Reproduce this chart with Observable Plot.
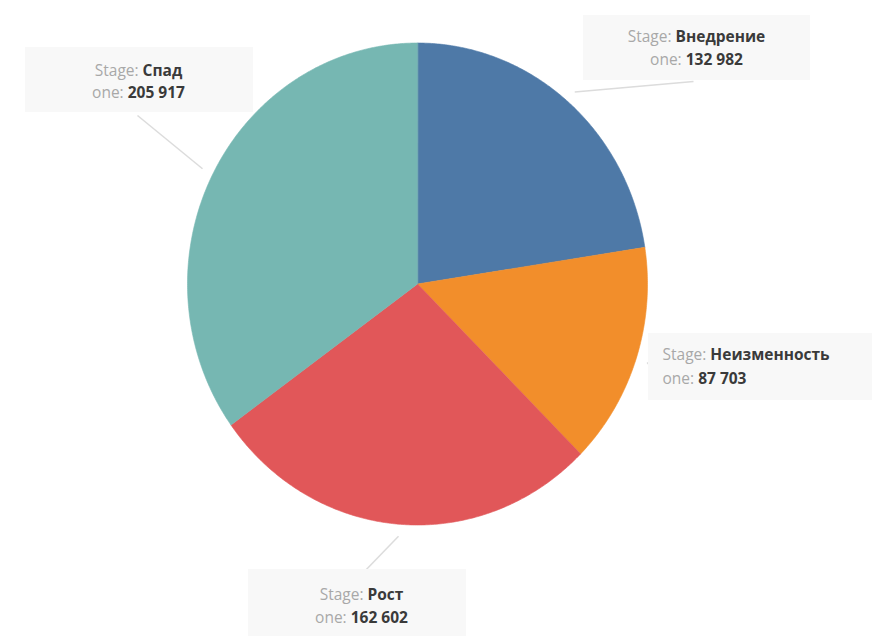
<!DOCTYPE html>
<html>
<head>
<meta charset="utf-8">
<script src="https://cdn.jsdelivr.net/npm/d3@7"></script>
<script src="https://cdn.jsdelivr.net/npm/@observablehq/plot@0.6"></script>
<style>
  html, body { margin: 0; padding: 0; background: #fff; }
  #chart svg { display: block; font-family: "Open Sans", "Noto Sans", sans-serif; }
</style>
</head>
<body>
<div id="chart"></div>
<script>
// ---- data ----
const stages = ["Внедрение", "Неизменность", "Рост", "Спад"];
const values = [132982, 87703, 162602, 205917];
const colors = ["#4e79a7", "#f28e2b", "#e15759", "#76b7b2"];

// ---- layout (pixels) ----
const W = 872, H = 636;
const CX = 417, CY = 283.5, RX = 230, RY = 241;
// label boxes and text anchors
const boxes = [
  {x1: 583, y1: 15, x2: 810, y2: 80, tx: 696, anchor: "middle", ty1: 37, ty2: 60, lx: 693, ly: 81},
  {x1: 648, y1: 333, x2: 872, y2: 400, tx: 662, anchor: "start", ty1: 355, ty2: 379, lx: 652, ly: 368},
  {x1: 248, y1: 569, x2: 466, y2: 640, tx: 361, anchor: "middle", ty1: 595, ty2: 618, lx: 362, ly: 573},
  {x1: 25, y1: 47, x2: 253, y2: 112, tx: 138, anchor: "middle", ty1: 71, ty2: 93, lx: 137, ly: 115}
];

const fmt = d3.formatLocale({decimal: ",", thousands: " ", grouping: [3], currency: ["", ""]}).format(",d");

const arcs = d3.pie().sort(null).value(d => d)(values);

const px = (a, r) => CX + RX * r * Math.sin(a);
const py = (a, r) => CY - RY * r * Math.cos(a);

const slices = arcs.map((a, i) => {
  const pts = [{x: CX, y: CY}];
  const n = Math.max(2, Math.ceil((a.endAngle - a.startAngle) / (Math.PI / 360)));
  for (let k = 0; k <= n; k++) {
    const t = a.startAngle + (a.endAngle - a.startAngle) * k / n;
    pts.push({x: px(t, 1), y: py(t, 1)});
  }
  return {pts, color: colors[i]};
});

const leaders = arcs.map((a, i) => {
  const m = (a.startAngle + a.endAngle) / 2;
  return {x1: px(m, 1.05), y1: py(m, 1.05), x2: boxes[i].lx, y2: boxes[i].ly};
});

const line1 = stages.map((s, i) => ({x: boxes[i].tx, y: boxes[i].ty1, anchor: boxes[i].anchor, text: "Stage: |" + s}));
const line2 = values.map((v, i) => ({x: boxes[i].tx, y: boxes[i].ty2, anchor: boxes[i].anchor, text: "one: |" + fmt(v)}));

const marks = [];
slices.forEach(s => {
  marks.push(Plot.line(s.pts, {x: "x", y: "y", fill: s.color, stroke: s.color, strokeWidth: 0.6, curve: "linear-closed"}));
});
marks.push(Plot.link(leaders, {x1: "x1", y1: "y1", x2: "x2", y2: "y2", stroke: "#dcdcdc", strokeWidth: 1.5}));
marks.push(Plot.rect(boxes, {x1: "x1", y1: "y1", x2: "x2", y2: "y2", fill: "#f8f8f8"}));
for (const anchor of ["middle", "start"]) {
  marks.push(Plot.text(line1.concat(line2).filter(d => d.anchor === anchor), {
    x: "x", y: "y", text: "text", textAnchor: anchor, fontSize: 15.5, fill: "#3a3a3a"
  }));
}

const chart = Plot.plot({
  width: W, height: H,
  margin: 0,
  x: {domain: [0, W], range: [0, W], axis: null},
  y: {domain: [0, H], range: [0, H], axis: null},
  marks
});

// mixed styling inside the labels
d3.select(chart).selectAll("text").each(function() {
  const t = this.textContent;
  if (!t.includes("|")) return;
  const [pre, val] = t.split("|");
  const el = d3.select(this);
  el.text(null);
  el.append("tspan").attr("fill", "#a8a8a8").text(pre);
  el.append("tspan").attr("fill", "#3a3a3a").attr("font-weight", "bold").text(val);
});

document.getElementById("chart").appendChild(chart);
</script>
</body>
</html>
